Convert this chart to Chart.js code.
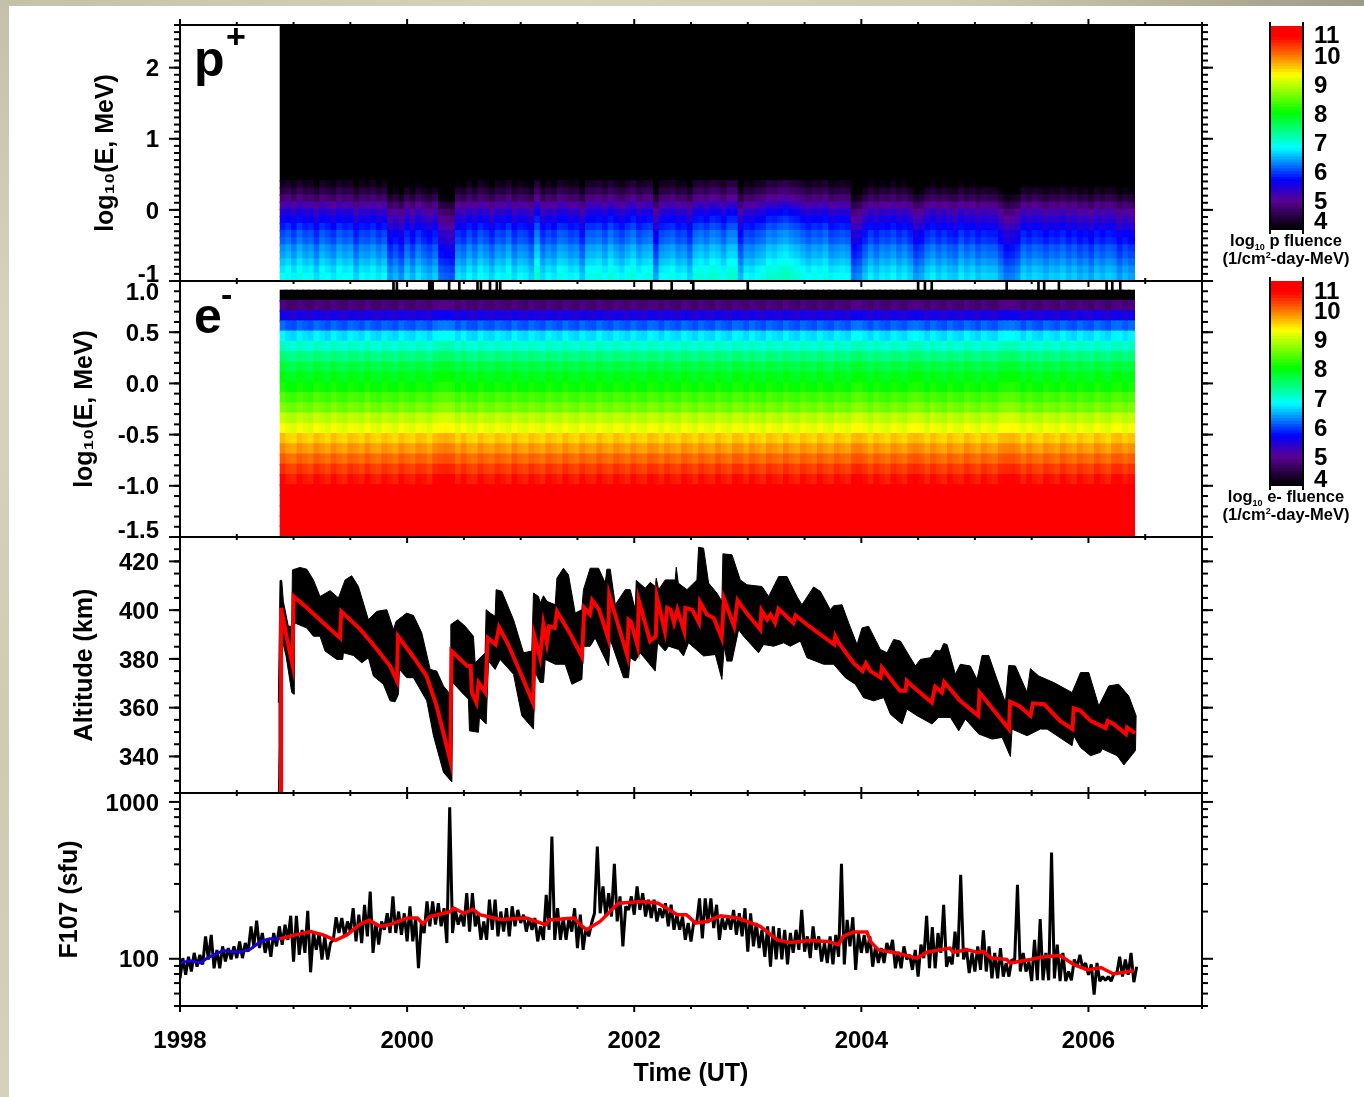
<!DOCTYPE html>
<html>
<head>
<meta charset="utf-8">
<title>Fluence, altitude and F10.7</title>
<script src="https://cdn.jsdelivr.net/npm/chart.js@4/dist/chart.umd.min.js"></script>
<style>
    html, body { margin: 0; padding: 0; background: #fff; }
    #page { position: relative; width: 1364px; height: 1097px; overflow: hidden; background: #fff;
            font-family: "Liberation Sans", Arial, sans-serif; font-weight: bold; color: #000;
            filter: blur(0.45px); }
    #page canvas { position: absolute; }
    .strip-top { position: absolute; left: 0; top: 0; width: 1364px; height: 6px;
                 background: linear-gradient(to right, #c4c0aa, #d8d3bc 40%, #cfcab4 70%, #9f9b88); }
    .strip-left { position: absolute; left: 0; top: 0; width: 9px; height: 1097px;
                  background: linear-gradient(to bottom, #c4c0aa, #d8d3bc 30%, #cfcab2 70%, #d6d1bb); }
    .species { position: absolute; font-size: 50px; line-height: 50px; z-index: 9; }
    .species-mark { position: absolute; font-size: 34px; line-height: 34px; z-index: 9; }
    .caption { position: absolute; width: 150px; text-align: center; font-size: 16.5px; line-height: 17px;
               white-space: nowrap; z-index: 9; }
    .caption sub, .caption sup { font-size: 9px; line-height: 0; }
</style>
</head>
<body>
<div id="page">
    <div class="strip-top"></div>
    <div class="strip-left"></div>
    <canvas id="proton-panel" style="left:0;top:5px;z-index:4" width="1250" height="296"></canvas>
    <canvas id="electron-panel" style="left:0;top:261px;z-index:3" width="1250" height="296"></canvas>
    <canvas id="altitude-panel" style="left:0;top:517px;z-index:2" width="1250" height="296"></canvas>
    <canvas id="f107-panel" style="left:0;top:773px;z-index:1" width="1250" height="323"></canvas>
    <canvas id="proton-bar" style="left:1240px;top:11px;z-index:5" width="124" height="234"></canvas>
    <canvas id="electron-bar" style="left:1240px;top:266px;z-index:5" width="124" height="235"></canvas>

    <div class="species" style="left:194px;top:34px">p</div>
    <div class="species-mark" style="left:226px;top:19px">+</div>
    <div class="species" style="left:194px;top:291px">e</div>
    <div class="species-mark" style="left:221px;top:277px">-</div>

    <div class="caption" style="left:1211px;top:232px">log<sub>10</sub> p fluence</div>
    <div class="caption" style="left:1211px;top:250px">(1/cm<sup>2</sup>-day-MeV)</div>
    <div class="caption" style="left:1211px;top:488px">log<sub>10</sub> e- fluence</div>
    <div class="caption" style="left:1211px;top:506px">(1/cm<sup>2</sup>-day-MeV)</div>
</div>

<script>
// ============================================
// DATA
// ============================================

const xMajorYears = [1998, 2000, 2002, 2004, 2006];
const xMinorYears = [1998.5, 1999, 1999.5, 2000.5, 2001, 2001.5, 2002.5, 2003, 2003.5, 2004.5, 2005, 2005.5, 2006.5, 2007];

// proton fluence: energy bin edges, typical level per bin, per-column offset
const pRowEdges = [-1, -0.9, -0.8, -0.7, -0.6, -0.5, -0.4, -0.3, -0.2, -0.1, 0, 0.1, 0.2, 0.3, 0.4, 2.6];
const pRowLevels = [6.7, 6.6, 6.45, 6.3, 6.2, 6.0, 5.9, 5.7, 5.5, 5.3, 5.0, 4.65, 4.35, 4.08, 4];
const pColumnShift = [
    .1, .2, .05, .25, .1, .15, -.05, .2, .1, 0, .2, .1, .15, -.1, .1, .05, .15, 0, .1,
    -.35, -.2, -.4, -.05, -.25, 0, -.15, -.25, -.1, -.55, -.6, -.65,
    0, -.1, .1, -.05, .15, .05, -.1, .1, .05, .2, -.05, .1, .05, -.1,
    .35, -.05, .1, 0, .2, .15, .05, .1, -.15, .2,
    .2, .25, .1, .3, .15, .05, .2, .3, .1, .2, .25, -.3,
    .1, .15, .2, .05, .1, -.1, .25, .3, .2, .35, .3, .15, .35, .35,
    -.2, .1, .05, .15, .2, .35, .3, .4, .45, .35, .3,
    .2, .1, .2, .15, .25, .05, .1, .15, .1, -.5, -.4, -.15,
    .05, -.1, .05, 0, .1, -.05, .05, -.1, -.35, -.25,
    -.05, .05, -.1, 0, -.1, -.15, .05, -.1, 0, -.15, -.05, -.1, -.1, -.3,
    -.5, -.45, -.35, -.05, -.15, -.05, -.1, -.2, -.1, -.15, -.05,
    -.2, -.1, -.25, -.15, -.3, -.1, -.2, -.1, -.15, -.35, -.2, -.3
];

// electron fluence
const eRowEdges = [-1.5, -1.4, -1.3, -1.2, -1.1, -1, -0.9, -0.8, -0.7, -0.6, -0.5, -0.4, -0.3, -0.2, -0.1, 0, 0.1, 0.2, 0.3, 0.4, 0.5, 0.6, 0.7, 0.8, 0.9];
const eRowLevels = [11, 11, 11, 10.9, 10.75, 10.5, 10.3, 10.05, 9.8, 9.55, 9.2, 8.95, 8.6, 8.35, 8.05, 7.9, 7.7, 7.4, 7.05, 6.7, 6.1, 5.5, 4.8, 4];
const eColumnShift = [
    .08, -.04, -.08, .06, -.02, -.07, .08, 0, -.08, .07, -.03, -.08, .06, 0, -.06, .08, -.03, -.08, .05,
    -.02, -.08, .07, -.02, -.07, .06, .02, -.08, .08, .12, .14, .1,
    -.05, .08, -.04, -.08, .07, -.02, -.07, .06, 0, -.08, .08, -.03, -.07, .06,
    -.02, -.08, .07, 0, -.07, .08, -.02, -.08, .06, -.03, -.06, .08, -.02, -.07, .07, 0, -.08, .06, -.03, -.07, .07, .03,
    -.08, .06, -.02, -.07, .08, 0, -.08, .06, -.03, -.07, .08, -.02, -.08, .07,
    .04, -.07, .07, -.02, -.08, .06, 0, -.07, .08, -.03, -.08,
    .06, -.02, -.07, .07, -.03, -.08, .06, 0, -.07, .1, .12, .03,
    -.07, .07, -.02, -.08, .06, 0, -.07, .07, .1, .05,
    -.07, .07, -.02, -.08, .06, -.03, -.07, .08, 0, -.08, .06, -.02, -.07, .08,
    .1, .12, .06, -.07, .07, -.03, -.08, .06, 0, -.07, .08,
    -.02, -.08, .06, -.03, -.07, .08, 0, -.08, .06, .08, -.03, .05
];
// black slivers above the top electron bin
const eGapYears = [1999.88, 1999.91, 2000.195, 2000.21, 2000.225, 2000.37, 2000.46, 2000.62, 2000.65, 2000.73, 2000.79, 2000.82,
    2002.15, 2002.33, 2002.52, 2003.0, 2004.5, 2004.56, 2004.62, 2005.28, 2005.56, 2005.61, 2005.74, 2006.16, 2006.21, 2006.28];

// colour scale levels shared by both bars
const fluenceLevels = [4, 4.1, 4.2, 4.3, 4.4, 4.5, 4.6, 4.7, 4.8, 4.9, 5, 5.1, 5.2, 5.3, 5.4, 5.5, 5.6, 5.7, 5.8, 5.9,
    6, 6.1, 6.2, 6.3, 6.4, 6.5, 6.6, 6.7, 6.8, 6.9, 7, 7.1, 7.2, 7.3, 7.4, 7.5, 7.6, 7.7, 7.8, 7.9,
    8, 8.1, 8.2, 8.3, 8.4, 8.5, 8.6, 8.7, 8.8, 8.9, 9, 9.1, 9.2, 9.3, 9.4, 9.5, 9.6, 9.7, 9.8, 9.9,
    10, 10.1, 10.2, 10.3, 10.4, 10.5, 10.6, 10.7, 10.8, 10.9];
const colorStopLevels = [4, 5, 5.7, 6.8, 8, 9.3, 10, 10.6, 11];
const colorStopR = [0, 90, 0, 0, 0, 255, 255, 255, 255];
const colorStopG = [0, 0, 0, 255, 255, 255, 110, 0, 0];
const colorStopB = [0, 150, 255, 255, 0, 0, 0, 0, 0];

// altitude: mean (red) and envelope (black)
const altYears = [1998.89, 1998.89, 1998.91, 1998.95, 1998.99, 1999.0, 1999.12, 1999.26, 1999.41, 1999.42, 1999.59, 1999.7, 1999.85, 1999.91, 1999.92,
    2000.06, 2000.17, 2000.26, 2000.38, 2000.39, 2000.53, 2000.56, 2000.57, 2000.61, 2000.63, 2000.69, 2000.71, 2000.78, 2000.81, 2000.89,
    2001.01, 2001.11, 2001.12, 2001.17, 2001.2, 2001.23, 2001.25, 2001.3, 2001.32, 2001.44, 2001.54, 2001.56, 2001.61, 2001.63, 2001.69, 2001.77, 2001.78, 2001.94, 2001.95, 2001.97,
    2002.03, 2002.04, 2002.14, 2002.19, 2002.2, 2002.27, 2002.29, 2002.32, 2002.35, 2002.38, 2002.44, 2002.45, 2002.51, 2002.57, 2002.58, 2002.64, 2002.7, 2002.77, 2002.79, 2002.88, 2002.91, 2002.99,
    2003.11, 2003.12, 2003.17, 2003.2, 2003.24, 2003.27, 2003.4, 2003.42, 2003.52, 2003.76, 2003.77, 2003.8, 2003.93,
    2004.01, 2004.04, 2004.08, 2004.17, 2004.18, 2004.34, 2004.39, 2004.4, 2004.43, 2004.62, 2004.65, 2004.71, 2004.73, 2004.87,
    2005.03, 2005.04, 2005.3, 2005.31, 2005.39, 2005.49, 2005.51, 2005.61, 2005.75, 2005.86, 2005.87, 2005.93,
    2006.02, 2006.15, 2006.17, 2006.22, 2006.33, 2006.34, 2006.41];
const altMean = [325, 400.9, 396.1, 386.6, 377.8, 405.6, 400.9, 394.8, 388.6, 399.5, 392, 385.9, 377.1, 371, 389.3,
    380.5, 373, 360.7, 338.3, 383.2, 377.1, 377.1, 366.2, 362.1, 370.3, 366.2, 388.6, 385.9, 393, 385.9,
    373, 361.8, 389.3, 380.5, 394.1, 386.6, 393.4, 392.7, 399.5, 390, 380.9, 400.9, 398.2, 404, 400.2, 388.6, 406.3, 381.2, 396.1, 395.4,
    385.2, 404, 387.3, 389.3, 405.4, 391.4, 400.9, 400.2, 394.8, 400.2, 391.4, 400.9, 400.2, 394.8, 403.2, 398.2, 396.8, 388.6, 404.7, 393.4, 404, 398.8,
    392, 399.9, 396.1, 398.2, 394.8, 400.5, 394.8, 397.8, 394.1, 385.9, 389.3, 386.6, 378.4,
    375, 378.2, 375, 372.3, 376.4, 366.9, 366.9, 371, 369.6, 362.1, 368.6, 366.2, 370.5, 362.8,
    356.7, 366.2, 351.2, 362.4, 360.7, 356.7, 361.8, 361.4, 354.6, 351.2, 359.7, 358.7,
    354.6, 351.6, 354.6, 353.3, 349.2, 351.9, 349.6];

const upperYears = [1998.866, 1998.881, 1998.896, 1998.91, 1998.954, 1998.984, 1998.99, 1999.057, 1999.116, 1999.175, 1999.233, 1999.322, 1999.395, 1999.454, 1999.512, 1999.571, 1999.659, 1999.733, 1999.821, 1999.88, 1999.903, 1999.997,
    2000.056, 2000.129, 2000.203, 2000.261, 2000.32, 2000.379, 2000.385, 2000.446, 2000.511, 2000.584, 2000.599, 2000.687, 2000.696, 2000.731, 2000.775, 2000.784, 2000.834, 2000.937,
    2001.025, 2001.098, 2001.113, 2001.157, 2001.172, 2001.201, 2001.231, 2001.304, 2001.319, 2001.377, 2001.421, 2001.48, 2001.539, 2001.553, 2001.612, 2001.686, 2001.745, 2001.759, 2001.789, 2001.833, 2001.921, 2001.965,
    2002.009, 2002.018, 2002.097, 2002.141, 2002.185, 2002.194, 2002.215, 2002.273, 2002.361, 2002.37, 2002.388, 2002.464, 2002.552, 2002.567, 2002.611, 2002.655, 2002.728, 2002.772, 2002.781, 2002.861, 2002.934, 2002.993,
    2003.125, 2003.184, 2003.272, 2003.345, 2003.433, 2003.477, 2003.58, 2003.639, 2003.727, 2003.756, 2003.83, 2003.888, 2003.962,
    2004.006, 2004.064, 2004.167, 2004.226, 2004.285, 2004.344, 2004.432, 2004.476, 2004.52, 2004.608, 2004.652, 2004.696, 2004.725, 2004.755, 2004.828, 2004.872, 2004.96,
    2005.019, 2005.063, 2005.122, 2005.195, 2005.269, 2005.298, 2005.357, 2005.46, 2005.489, 2005.562, 2005.695, 2005.856, 2005.93,
    2006.003, 2006.091, 2006.179, 2006.267, 2006.355, 2006.42];
const bandUpper = [362, 412.2, 412.2, 403.6, 393.4, 393.4, 416.5, 417.5, 416.8, 412.4, 405.6, 408, 405, 412.4, 414.1, 409.7, 396.1, 399.5, 400.2, 392, 395.4, 398.8,
    397.8, 390.7, 375.7, 375, 368.9, 365.5, 394.1, 396.1, 393.4, 389.3, 378.4, 382.5, 400.2, 398.8, 397.5, 408.4, 407.7, 396.1,
    382.5, 383.2, 407, 405.6, 402.9, 405.9, 403.6, 402.2, 413.1, 417.2, 414.5, 398.8, 400.2, 408.4, 417.2, 417.2, 411.1, 416.8, 416.8, 402.2, 408.4, 408.4,
    400.2, 412.2, 409, 411.4, 409.7, 413.1, 408.4, 412.4, 412.4, 417.6, 411.1, 408.4, 412.4, 425.8, 425.4, 411.1, 407, 403.6, 423.1, 422.7, 412.4, 410.4,
    409.7, 405.6, 413.8, 413.8, 405.6, 402.2, 409.5, 407.7, 400.2, 401.8, 402.2, 394.8, 385.9,
    392.7, 393.4, 383.9, 382.5, 388, 387.3, 380.5, 377.1, 379.8, 380.5, 383.6, 383.2, 386.3, 385.9, 373.7, 377.8, 377.1,
    371.6, 381.4, 381.4, 371.6, 362.1, 377.3, 377.1, 366.2, 376, 373, 370.3, 366.2, 374.4,
    374.4, 360.7, 368.9, 369.6, 364.8, 356.7];

const lowerYears = [1998.866, 1998.899, 1998.934, 1998.984, 1999.004, 1999.007, 1999.116, 1999.175, 1999.233, 1999.278, 1999.38, 1999.433, 1999.439, 1999.527, 1999.601, 1999.659, 1999.703, 1999.791, 1999.85, 1999.894, 1999.924, 1999.932, 1999.997,
    2000.056, 2000.173, 2000.232, 2000.32, 2000.394, 2000.402, 2000.482, 2000.54, 2000.549, 2000.628, 2000.637, 2000.696, 2000.717, 2000.775, 2000.819, 2000.937,
    2001.01, 2001.113, 2001.128, 2001.172, 2001.201, 2001.216, 2001.304, 2001.392, 2001.451, 2001.539, 2001.553, 2001.612, 2001.656, 2001.774, 2001.789, 2001.906, 2001.95, 2001.965,
    2002.009, 2002.053, 2002.185, 2002.206, 2002.273, 2002.302, 2002.39, 2002.434, 2002.478, 2002.611, 2002.714, 2002.772, 2002.793, 2002.816, 2002.861, 2002.919, 2002.963,
    2003.095, 2003.139, 2003.228, 2003.316, 2003.374, 2003.463, 2003.521, 2003.668, 2003.756, 2003.859, 2003.947,
    2004.02, 2004.108, 2004.197, 2004.256, 2004.358, 2004.402, 2004.491, 2004.623, 2004.681, 2004.784, 2004.858, 2004.916,
    2005.034, 2005.151, 2005.24, 2005.313, 2005.327, 2005.46, 2005.577, 2005.636, 2005.856, 2005.871, 2005.93,
    2006.018, 2006.106, 2006.121, 2006.253, 2006.312, 2006.414, 2006.42];
const bandLower = [325, 388, 381.2, 366.2, 365.5, 394.8, 392.7, 389.3, 389.3, 383.2, 379.8, 379.8, 382.5, 381.4, 378.4, 380.5, 373, 369.6, 362.8, 362.4, 365.5, 375.7, 372.3,
    372.3, 362.8, 348.5, 333.5, 329.5, 370.3, 366.2, 363.5, 350.5, 349.9, 356, 353.3, 379.1, 375.7, 379.8, 373.7,
    356.7, 351.2, 374.4, 370.3, 370.3, 379.8, 377.8, 377.8, 369.6, 371.6, 385.2, 385.2, 388.6, 377.1, 388, 372.3, 372.3, 380.5,
    379.1, 382.5, 375, 386.6, 383.2, 385.2, 383.9, 381.2, 386.6, 381.2, 381.8, 371.6, 385.2, 379.1, 379.1, 392, 389.3,
    382.5, 385.9, 385.2, 386.6, 385.2, 387.3, 380.5, 377.8, 377.8, 372.3, 369.6,
    364.1, 362.8, 364.1, 357.3, 353.3, 359.4, 356.7, 353.3, 356, 356, 350.5, 355.3,
    349.2, 347.1, 347.8, 339.9, 351.2, 348.5, 351.2, 351.2, 344.4, 348.5, 343.7,
    340.3, 341.7, 343.1, 340.3, 336.5, 342.4, 356.7];

// F10.7: high and low of each 0.05 yr bin starting at 1998.0
const f107Hi = [101, 103, 109, 106, 139, 142, 114, 120, 117, 120, 129, 126, 161, 175, 146, 135, 146, 161, 165, 188,
    188, 153, 202, 149, 146, 139, 126, 184, 182, 173, 210, 191, 221, 268, 169, 173, 195, 250, 200, 195,
    216, 182, 169, 232, 232, 226, 210, 925, 205, 191, 262, 262, 191, 173, 238, 238, 200, 210, 216, 205,
    191, 182, 182, 161, 256, 601, 210, 182, 182, 210, 191, 157, 169, 520, 289, 262, 403, 250, 216, 250,
    289, 262, 238, 238, 210, 226, 221, 191, 186, 169, 173, 243, 243, 243, 221, 182, 186, 205, 195, 210,
    195, 169, 153, 161, 161, 157, 153, 146, 153, 205, 139, 161, 139, 126, 139, 142, 403, 177, 184, 146,
    142, 139, 120, 117, 126, 132, 111, 120, 106, 114, 123, 188, 159, 146, 221, 103, 149, 343, 117, 109,
    120, 152, 120, 109, 117, 94, 99, 296, 109, 96, 132, 179, 109, 475, 123, 109, 83, 99, 106, 94,
    92, 94, 77, 77, 81, 103, 99, 109, 89];
const f107Lo = [75, 79, 83, 89, 92, 99, 87, 87, 96, 99, 101, 101, 111, 120, 117, 109, 103, 120, 123, 132,
    96, 106, 109, 82, 114, 99, 99, 132, 146, 139, 149, 129, 126, 139, 109, 123, 153, 146, 146, 142,
    129, 129, 87, 146, 161, 165, 161, 126, 146, 165, 161, 149, 161, 132, 132, 153, 139, 149, 139, 161,
    169, 149, 153, 129, 132, 153, 132, 132, 132, 149, 117, 114, 139, 195, 195, 186, 186, 173, 120, 205,
    191, 205, 186, 182, 173, 182, 161, 153, 153, 132, 129, 169, 135, 169, 157, 132, 153, 153, 142, 139,
    111, 120, 117, 103, 89, 99, 99, 92, 109, 114, 111, 101, 114, 96, 94, 92, 103, 92, 120, 85,
    109, 109, 89, 94, 94, 109, 87, 87, 99, 85, 77, 101, 87, 87, 109, 89, 92, 103, 99, 81,
    83, 85, 83, 75, 75, 77, 77, 96, 83, 83, 72, 73, 73, 73, 75, 72, 72, 73, 89, 87,
    79, 59, 72, 73, 72, 81, 77, 79, 71];

// smoothed F10.7, blue up to the start of the altitude record, red after it
const smoothBlueYears = [1998, 1998.09, 1998.18, 1998.24, 1998.38, 1998.53, 1998.62, 1998.71, 1998.79, 1998.88];
const smoothBlue = [94, 97, 94, 101, 113, 110, 115, 129, 134, 134];
const smoothRedYears = [1998.88, 1999, 1999.15, 1999.26, 1999.37, 1999.47, 1999.59, 1999.67, 1999.76, 1999.85, 2000,
    2000.09, 2000.14, 2000.2, 2000.26, 2000.38, 2000.41, 2000.5, 2000.58, 2000.64, 2000.82,
    2001.05, 2001.22, 2001.25, 2001.47, 2001.51, 2001.58, 2001.7, 2001.86, 2002.08, 2002.21, 2002.38, 2002.46, 2002.54, 2002.64, 2002.76, 2002.91,
    2003.11, 2003.26, 2003.37, 2003.55, 2003.7, 2003.8, 2003.84, 2003.93, 2004.05, 2004.08, 2004.15, 2004.28, 2004.49, 2004.58, 2004.78, 2004.81, 2004.93,
    2005.02, 2005.08, 2005.14, 2005.28, 2005.31, 2005.49, 2005.61, 2005.75, 2005.87, 2005.99, 2006.11, 2006.22, 2006.4];
const smoothRed = [134, 141, 149, 142, 131, 142, 167, 176, 161, 165, 182,
    182, 167, 186, 190, 200, 210, 195, 207, 191, 178,
    182, 165, 177, 182, 169, 153, 173, 226, 232, 226, 191, 191, 169, 173, 188, 182,
    161, 132, 127, 131, 129, 123, 139, 148, 148, 129, 114, 110, 101, 110, 117, 110, 114,
    110, 111, 101, 99, 94, 99, 103, 105, 92, 85, 88, 80, 84];

// axis ticks and labels
const pMajorTicks = [-1, 0, 1, 2];
const pLabelValues = [-0.89, 0, 1, 2];
const pLabelTexts = ['-1', '0', '1', '2'];
const eMajorTicks = [-1.5, -1, -0.5, 0, 0.5, 1];
const eLabelValues = [-1.43, -1, -0.5, 0, 0.5, 0.9];
const eLabelTexts = ['-1.5', '-1.0', '-0.5', '0.0', '0.5', '1.0'];
const altMajorTicks = [340, 360, 380, 400, 420];
const altLabelTexts = ['340', '360', '380', '400', '420'];
const f107MajorTicks = [100, 1000];
const f107MinorTicks = [50, 60, 70, 80, 90, 200, 300, 400, 500, 600, 700, 800, 900];
const f107LabelTexts = ['100', '1000'];
const pBarLabelValues = [4.33, 5, 6, 7, 8, 9, 10, 10.72];
const eBarLabelValues = [4.27, 5, 6, 7, 8, 9, 10, 10.69];
const barLabelTexts = ['4', '5', '6', '7', '8', '9', '10', '11'];

// ============================================
// HELPERS
// ============================================

Chart.defaults.font.family = '"Liberation Sans", Arial, sans-serif';
Chart.defaults.font.size = 24;
Chart.defaults.font.weight = 'bold';
Chart.defaults.color = '#000';

const LINE_COLOR = '#000';
const TITLE_FONT = { size: 25, weight: 'bold' };

function stepTicks(from, to, step) {
    const out = [];
    const n = Math.round((to - from) / step);
    for (let i = 0; i <= n; i++) out.push(from + i * step);
    return out;
}

function levelColor(level) {
    const v = Math.max(4, Math.min(11, level));
    let i = 0;
    while (i < colorStopLevels.length - 2 && v > colorStopLevels[i + 1]) i++;
    const f = (v - colorStopLevels[i]) / (colorStopLevels[i + 1] - colorStopLevels[i]);
    const mix = arr => Math.round(arr[i] + (arr[i + 1] - arr[i]) * f);
    return `rgb(${mix(colorStopR)}, ${mix(colorStopG)}, ${mix(colorStopB)})`;
}

function zipPoints(xs, ys) {
    return xs.map((x, i) => ({ x: x, y: ys[i] }));
}

function heatDatasets(rowEdges, rowLevels, columnShift) {
    return rowLevels.map((level, r) => ({
        type: 'bar',
        grouped: false,
        barThickness: 6.4,
        borderWidth: 0,
        data: columnShift.map((shift, c) => ({
            x: 1998.909 + 0.0498 * c,
            y: [rowEdges[r], rowEdges[r + 1] + 0.012]
        })),
        // rows at the floor of the scale stay black
        backgroundColor: columnShift.map(shift => levelColor(level <= 4 ? 4 : level + shift))
    }));
}

// frame with outward ticks on all four sides
function framePlugin(yMajor, yMinor) {
    return {
        id: 'panelFrame',
        afterDatasetsDraw(chart) {
            const { ctx, chartArea: a, scales } = chart;
            const mark = (x1, y1, x2, y2) => {
                ctx.beginPath();
                ctx.moveTo(x1, y1);
                ctx.lineTo(x2, y2);
                ctx.stroke();
            };
            ctx.save();
            ctx.strokeStyle = LINE_COLOR;
            ctx.lineWidth = 2;
            ctx.strokeRect(a.left, a.top, a.right - a.left, a.bottom - a.top);
            xMajorYears.forEach(v => {
                const x = scales.x.getPixelForValue(v);
                mark(x, a.top, x, a.top - 6);
                mark(x, a.bottom, x, a.bottom + 6);
            });
            xMinorYears.forEach(v => {
                const x = scales.x.getPixelForValue(v);
                mark(x, a.top, x, a.top - 3);
                mark(x, a.bottom, x, a.bottom + 3);
            });
            yMajor.forEach(v => {
                const y = scales.y.getPixelForValue(v);
                mark(a.left, y, a.left - 11, y);
                mark(a.right, y, a.right + 11, y);
            });
            yMinor.forEach(v => {
                const y = scales.y.getPixelForValue(v);
                mark(a.left, y, a.left - 6, y);
                mark(a.right, y, a.right + 6, y);
            });
            ctx.restore();
        }
    };
}

function barFramePlugin() {
    return {
        id: 'barFrame',
        afterDatasetsDraw(chart) {
            const { ctx, chartArea: a } = chart;
            ctx.save();
            ctx.strokeStyle = LINE_COLOR;
            ctx.lineWidth = 2;
            [a.left, a.right].forEach(x => {
                ctx.beginPath();
                ctx.moveTo(x, a.top - 4);
                ctx.lineTo(x, a.bottom + 4);
                ctx.stroke();
            });
            ctx.restore();
        }
    };
}

function hiddenXAxis() {
    return {
        type: 'linear', min: 1998, max: 2007, bounds: 'data', offset: false,
        grid: { display: false, offset: false }, border: { display: false },
        ticks: { display: false },
        afterFit: s => { s.height = 0; s.paddingLeft = 0; s.paddingRight = 0; }
    };
}

function yAxis(type, min, max, labelValues, labelTexts, title, titleX) {
    return {
        type: type, min: min, max: max, bounds: 'data',
        grid: { display: false, drawTicks: false }, border: { display: false },
        ticks: {
            padding: 21, labelOffset: 2, autoSkip: false, maxRotation: 0,
            callback: (v, i) => labelTexts[i]
        },
        afterBuildTicks: s => { s.ticks = labelValues.map(v => ({ value: v })); },
        afterFit: s => { s.width = 180; s.paddingTop = 0; s.paddingBottom = 0; },
        title: { display: true, text: title, padding: { top: titleX - 13, bottom: 0 }, font: TITLE_FONT }
    };
}

function basePanelOptions(x, y, bottomPad) {
    return {
        responsive: false,
        maintainAspectRatio: false,
        animation: false,
        events: [],
        devicePixelRatio: 1,
        layout: { padding: { left: 0, right: 48, top: 20, bottom: bottomPad } },
        plugins: { legend: { display: false }, tooltip: { enabled: false }, title: { display: false } },
        scales: { x: x, y: y }
    };
}

// ============================================
// PANELS
// ============================================

function drawProtonPanel() {
    new Chart(document.getElementById('proton-panel'), {
        type: 'bar',
        data: { datasets: heatDatasets(pRowEdges, pRowLevels, pColumnShift) },
        options: basePanelOptions(hiddenXAxis(),
            yAxis('linear', -1, 2.6, pLabelValues, pLabelTexts, 'log\u2081\u2080(E, MeV)', 104), 20),
        plugins: [framePlugin(pMajorTicks, stepTicks(-1, 2.6, 0.1))]
    });
}

function drawElectronPanel() {
    const datasets = heatDatasets(eRowEdges, eRowLevels, eColumnShift);
    datasets.push({
        type: 'bar',
        grouped: false,
        barThickness: 2,
        borderWidth: 0,
        backgroundColor: '#000',
        data: eGapYears.map(year => ({ x: year, y: [0.9, 1] }))
    });
    new Chart(document.getElementById('electron-panel'), {
        type: 'bar',
        data: { datasets: datasets },
        options: basePanelOptions(hiddenXAxis(),
            yAxis('linear', -1.5, 1, eLabelValues, eLabelTexts, 'log\u2081\u2080(E, MeV)', 83), 20),
        plugins: [framePlugin(eMajorTicks, stepTicks(-1.5, 1, 0.1))]
    });
}

function drawAltitudePanel() {
    new Chart(document.getElementById('altitude-panel'), {
        type: 'line',
        data: {
            datasets: [
                { data: zipPoints(altYears, altMean), borderColor: '#ff0000', borderWidth: 4, pointRadius: 0, borderJoinStyle: 'miter', tension: 0 },
                { data: zipPoints(upperYears, bandUpper), borderColor: '#000', backgroundColor: '#000', borderWidth: 1, pointRadius: 0, fill: '+1', tension: 0 },
                { data: zipPoints(lowerYears, bandLower), borderColor: '#000', borderWidth: 1, pointRadius: 0, fill: false, tension: 0 }
            ]
        },
        options: basePanelOptions(hiddenXAxis(),
            yAxis('linear', 325, 430, altMajorTicks, altLabelTexts, 'Altitude (km)', 83), 20),
        plugins: [framePlugin(altMajorTicks, stepTicks(325, 430, 5))]
    });
}

function drawF107Panel() {
    const zigzag = [];
    f107Lo.forEach((lo, i) => {
        zigzag.push({ x: 1998 + 0.05 * i, y: lo });
        zigzag.push({ x: 1998 + 0.05 * i + 0.025, y: f107Hi[i] });
    });

    const x = hiddenXAxis();
    x.ticks = {
        display: true, padding: 21, autoSkip: false, maxRotation: 0,
        callback: v => String(v)
    };
    x.grid = { display: false, drawTicks: false, offset: false };
    x.afterBuildTicks = s => { s.ticks = xMajorYears.map(v => ({ value: v })); };
    x.afterFit = s => { s.height = 83; s.paddingLeft = 0; s.paddingRight = 0; };
    x.title = { display: true, text: 'Time (UT)', padding: 0, font: TITLE_FONT };

    new Chart(document.getElementById('f107-panel'), {
        type: 'line',
        data: {
            datasets: [
                { data: zipPoints(smoothRedYears, smoothRed), borderColor: '#ff0000', borderWidth: 3.5, pointRadius: 0, tension: 0 },
                { data: zipPoints(smoothBlueYears, smoothBlue), borderColor: '#1a00e0', borderWidth: 3, pointRadius: 0, tension: 0 },
                { data: zigzag, borderColor: '#000', borderWidth: 3, pointRadius: 0, tension: 0, borderJoinStyle: 'bevel' }
            ]
        },
        options: basePanelOptions(x,
            yAxis('logarithmic', 50, 1140, f107MajorTicks, f107LabelTexts, 'F107 (sfu)', 68), 7),
        plugins: [framePlugin(f107MajorTicks, f107MinorTicks)]
    });
}

function drawColorBar(canvasId, labelValues) {
    const datasets = fluenceLevels.map(level => ({
        type: 'bar',
        grouped: false,
        barThickness: 33,
        borderWidth: 0,
        backgroundColor: levelColor(level + 0.05),
        data: [{ x: 0.5, y: [level, level + 0.11] }]
    }));
    new Chart(document.getElementById(canvasId), {
        type: 'bar',
        data: { datasets: datasets },
        options: {
            responsive: false,
            maintainAspectRatio: false,
            animation: false,
            events: [],
            devicePixelRatio: 1,
            layout: { padding: { left: 30, right: 0, top: 15, bottom: 15 } },
            plugins: { legend: { display: false }, tooltip: { enabled: false } },
            scales: {
                x: {
                    type: 'linear', min: 0, max: 1, bounds: 'data', offset: false,
                    grid: { display: false, offset: false }, border: { display: false },
                    ticks: { display: false },
                    afterFit: s => { s.height = 0; }
                },
                y: {
                    type: 'linear', min: 4, max: 11, bounds: 'data', position: 'right',
                    grid: { display: false, drawTicks: false }, border: { display: false },
                    ticks: {
                        padding: 11, labelOffset: 2, autoSkip: false, maxRotation: 0,
                        callback: (v, i) => barLabelTexts[i]
                    },
                    afterBuildTicks: s => { s.ticks = labelValues.map(v => ({ value: v })); },
                    afterFit: s => { s.width = 61; s.paddingTop = 0; s.paddingBottom = 0; }
                }
            }
        },
        plugins: [barFramePlugin()]
    });
}

// ============================================
// INITIALIZATION
// ============================================

drawProtonPanel();
drawElectronPanel();
drawAltitudePanel();
drawF107Panel();
drawColorBar('proton-bar', pBarLabelValues);
drawColorBar('electron-bar', eBarLabelValues);
</script>
</body>
</html>
